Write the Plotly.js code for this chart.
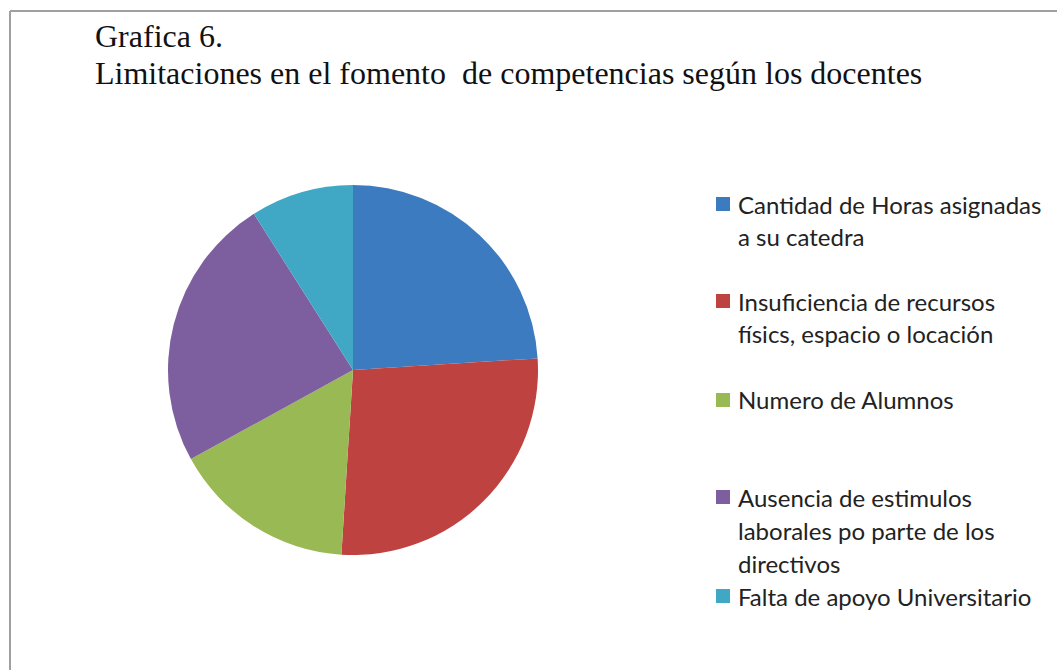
<!DOCTYPE html>
<html>
<head>
<meta charset="utf-8">
<script src="https://cdn.plot.ly/plotly-3.0.1.min.js"></script>
<style>body{margin:0;background:#fff}#chart{width:1057px;height:670px}</style>
</head>
<body>
<div id="chart"></div>
<script>
const categories = [
  "Cantidad de Horas asignadas<br>a su catedra",
  "Insuficiencia de recursos<br>físics, espacio o locación",
  "Numero de Alumnos",
  "Ausencia de estimulos<br>laborales po parte de los<br>directivos",
  "Falta de apoyo Universitario"
];
const values = [24, 27, 16, 24, 9];
const colors = ["#3C7BBF", "#BE4340", "#98B954", "#7D5FA0", "#40A8C4"];
const titleLines = ["Grafica 6.", "Limitaciones en el fomento&nbsp; de competencias según los docentes"];

const W = 1057, H = 670;
const px = x => x / W, py = y => 1 - y / H;

const cx = 353, cy = 370, r = 185;
const trace = {
  type: "pie",
  labels: categories.map(c => c.replace(/<br>/g, " ")),
  values: values,
  sort: false,
  direction: "clockwise",
  rotation: 0,
  textinfo: "none",
  hoverinfo: "label+percent",
  marker: {colors: colors, line: {width: 0}},
  domain: {x: [px(cx - r), px(cx + r)], y: [py(cy + r), py(cy - r)]},
  showlegend: false
};

const annotations = [];
const shapes = [
  {type: "line", xref: "paper", yref: "paper", x0: px(10), x1: px(10), y0: py(11), y1: 0, line: {color: "#A0A0A0", width: 2}},
  {type: "line", xref: "paper", yref: "paper", x0: px(10), x1: 1, y0: py(11), y1: py(11), line: {color: "#A0A0A0", width: 2}}
];
const titleY = [36, 73];
titleLines.forEach((t, i) => {
  annotations.push({
    xref: "paper", yref: "paper", x: px(93), y: py(titleY[i]),
    xanchor: "left", yanchor: "middle", showarrow: false, text: t,
    font: {family: "'Liberation Serif', 'Times New Roman', serif", size: 32, color: "#111111"}
  });
});
const itemY = [204, 301, 400, 497, 596];
const lineGap = 33;
categories.forEach((c, i) => {
  const lines = c.split("<br>");
  lines.forEach((ln, j) => {
    annotations.push({
      xref: "paper", yref: "paper", x: px(736), y: py(itemY[i] + j * lineGap),
      xanchor: "left", yanchor: "middle", showarrow: false, text: ln,
      font: {family: "Lato, 'Noto Sans', sans-serif", size: 24, color: "#222222"}
    });
  });
  shapes.push({type: "rect", xref: "paper", yref: "paper",
    x0: px(716), x1: px(730), y0: py(itemY[i] + 7), y1: py(itemY[i] - 7),
    fillcolor: colors[i], line: {width: 0}});
});

const layout = {
  width: W, height: H,
  margin: {l: 0, r: 0, t: 0, b: 0},
  paper_bgcolor: "#ffffff",
  showlegend: false,
  annotations: annotations,
  shapes: shapes
};
Plotly.newPlot("chart", [trace], layout, {displayModeBar: false});
</script>
</body>
</html>
